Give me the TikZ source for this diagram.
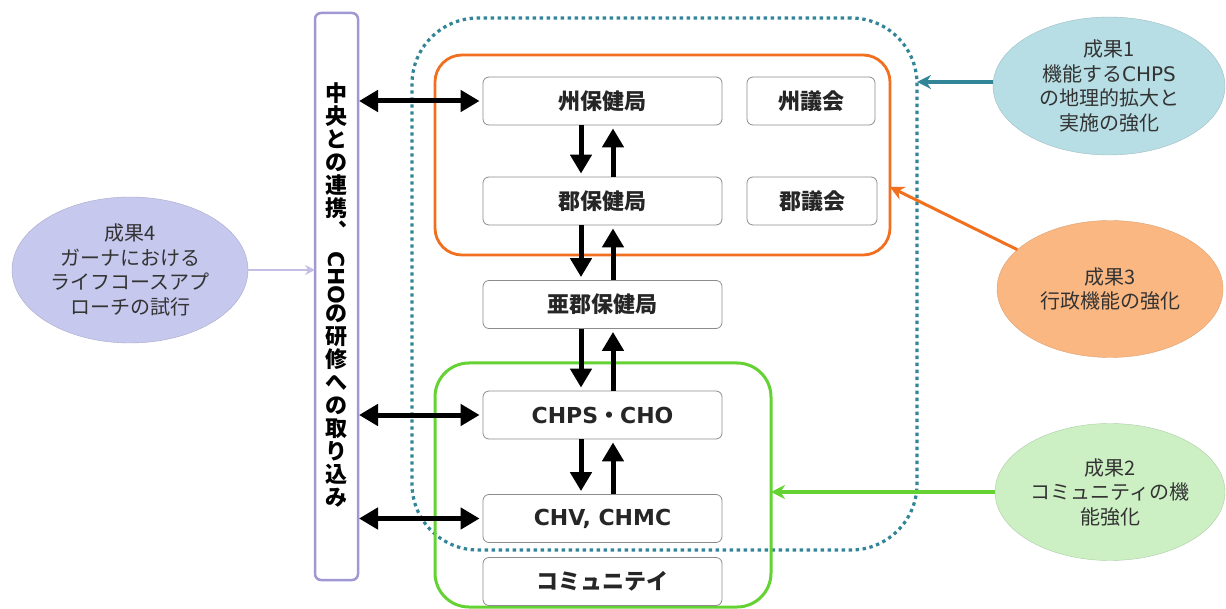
\documentclass[tikz,border=0pt]{standalone}
\usepackage{fontspec}
\setmainfont{Noto Sans CJK JP}
\newfontfamily\lat{DejaVu Sans}
\usetikzlibrary{arrows.meta,shapes.geometric}
\definecolor{tealc}{RGB}{49,133,150}
\definecolor{orangec}{RGB}{240,112,32}
\definecolor{greenc}{RGB}{100,210,50}
\definecolor{purplec}{RGB}{160,152,210}
\definecolor{lavarrow}{RGB}{196,190,228}
\definecolor{boxgray}{RGB}{140,140,140}
\definecolor{fone}{RGB}{183,222,228}
\definecolor{ftwo}{RGB}{204,240,196}
\definecolor{fthree}{RGB}{250,183,130}
\definecolor{ffour}{RGB}{198,200,238}
\begin{document}
\begin{tikzpicture}[x=1pt,y=-1pt,
  orgbox/.style={draw=boxgray, line width=0.8pt, fill=white, rounded corners=6pt,
    minimum height=48pt, inner sep=0pt, font=\fontsize{22}{24}\selectfont\bfseries, text=black!85},
  wide/.style={orgbox, minimum width=239pt},
  result/.style={ellipse, inner sep=0pt, align=center, font=\fontsize{20}{24.5}\selectfont, text=black!80},
  varrow/.style={line width=5pt, -{Triangle[length=19pt,width=21pt]}, shorten >=3pt},
  harrow/.style={line width=5pt, {Triangle[length=19pt,width=21pt]}-{Triangle[length=19pt,width=21pt]}, shorten >=3pt, shorten <=1pt},
  region/.style={inner sep=0pt, outer sep=0pt},
]
\useasboundingbox (0,0) rectangle (1226,609);

% containers
\node[region, draw=tealc, line width=3.2pt, dash pattern=on 3.4pt off 3.6pt, rounded corners=66pt,
  minimum width=505pt, minimum height=532pt] (outer) at (664.5,284) {};
\node[region, draw=orangec, line width=2.8pt, rounded corners=27pt,
  minimum width=455pt, minimum height=200pt] (adm) at (662.5,155) {};
\node[region, draw=greenc, line width=3pt, rounded corners=34pt,
  minimum width=336pt, minimum height=244pt] (com) at (603,485) {};

% left vertical box
\node[region, draw=purplec, line width=2.5pt, fill=white, rounded corners=6pt,
  minimum width=43pt, minimum height=567pt] (vbox) at (336.5,296.5) {};
\node[anchor=north, align=center, inner sep=0pt, font=\fontsize{22}{23}\selectfont\bfseries] (vtext) at (336.5,82)
 {中\\央\\と\\の\\連\\携\\︑\\\raisebox{0.5em}{\rotatebox{-90}{\lat CHO}}\\の\\研\\修\\へ\\の\\取\\り\\込\\み};

% organisation boxes
\node[wide] (s1) at (602.5,101) {州保健局};
\node[orgbox, minimum width=128pt] (c1) at (811,101) {州議会};
\node[wide] (s2) at (602.5,201) {郡保健局};
\node[orgbox, minimum width=130pt] (c2) at (812,201) {郡議会};
\node[wide] (s3) at (602.5,304.5) {亜郡保健局};
\node[wide] (s4) at (602.5,415) {{\lat CHPS}・{\lat CHO}};
\node[wide] (s5) at (602.5,518.5) {\lat CHV, CHMC};
\node[wide] (s6) at (602.5,581.5) {コミュニテイ};

% results
\node[result, fill=fone, draw=fone!85!black, minimum width=232pt, minimum height=138pt] (r1) at (1109,86)
  {成果1\\機能する{\lat CHPS}\\の地理的拡大と\\実施の強化};
\node[result, fill=fthree, draw=fthree!88!black, minimum width=226pt, minimum height=137pt] (r3) at (1110,289)
  {成果3\\行政機能の強化};
\node[result, fill=ftwo, draw=ftwo!85!black, minimum width=230pt, minimum height=137pt] (r2) at (1110,492)
  {成果2\\コミュニティの機\\能強化};
\node[result, fill=ffour, draw=ffour!85!black, minimum width=236pt, minimum height=146pt] (r4) at (130,270)
  {成果4\\ガーナにおける\\ライフコースアプ\\ローチの試行};

% vertical arrows
\foreach \a/\b in {s1/s2,s2/s3,s3/s4,s4/s5}{
  \draw[varrow] ([xshift=-21.5pt]\a.south) -- ([xshift=-21.5pt]\b.north);
  \draw[varrow] ([xshift=10.5pt]\b.north) -- ([xshift=10.5pt]\a.south);
}
% horizontal double arrows
\draw[harrow] (s1.west -| vbox.east) -- (s1.west);
\draw[harrow] (s4.west -| vbox.east) -- (s4.west);
\draw[harrow] (s5.west -| vbox.east) -- (s5.west);

% result arrows
\draw[tealc, line width=3.5pt, -{Stealth[length=14pt,width=14pt]}] (r1.178) -- (r1.178 -| outer.east);
\draw[orangec, line width=3pt, -{Stealth[length=14pt,width=14pt]}] (r3.157) -- ([yshift=-32pt]adm.east);
\draw[greenc, line width=3.5pt, -{Stealth[length=14pt,width=14pt]}] (r2.west) -- (r2.west -| com.east);
\draw[lavarrow, line width=2.5pt, -{Stealth[length=10pt,width=10pt]}] (r4.east) -- (r4.east -| vbox.west);
\end{tikzpicture}
\end{document}
